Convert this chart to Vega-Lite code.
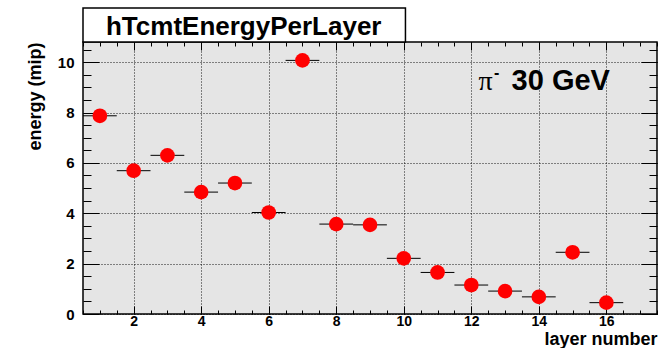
{
  "$schema": "https://vega.github.io/schema/vega-lite/v6.json",
  "width": 574,
  "height": 272,
  "autosize": {"type": "none"},
  "padding": {"left": 83, "top": 42, "right": 15, "bottom": 34},
  "background": "white",
  "config": {
    "view": {"fill": "#e5e5e5", "stroke": "black", "strokeWidth": 1.5},
    "font": "Liberation Sans"
  },
  "data": {
    "values": [
      {"layer": 1, "lo": 0.5, "hi": 1.5, "energy": 7.87},
      {"layer": 2, "lo": 1.5, "hi": 2.5, "energy": 5.69},
      {"layer": 3, "lo": 2.5, "hi": 3.5, "energy": 6.30},
      {"layer": 4, "lo": 3.5, "hi": 4.5, "energy": 4.84},
      {"layer": 5, "lo": 4.5, "hi": 5.5, "energy": 5.20},
      {"layer": 6, "lo": 5.5, "hi": 6.5, "energy": 4.03},
      {"layer": 7, "lo": 6.5, "hi": 7.5, "energy": 10.07},
      {"layer": 8, "lo": 7.5, "hi": 8.5, "energy": 3.57},
      {"layer": 9, "lo": 8.5, "hi": 9.5, "energy": 3.54},
      {"layer": 10, "lo": 9.5, "hi": 10.5, "energy": 2.21},
      {"layer": 11, "lo": 10.5, "hi": 11.5, "energy": 1.65},
      {"layer": 12, "lo": 11.5, "hi": 12.5, "energy": 1.15},
      {"layer": 13, "lo": 12.5, "hi": 13.5, "energy": 0.91},
      {"layer": 14, "lo": 13.5, "hi": 14.5, "energy": 0.68},
      {"layer": 15, "lo": 14.5, "hi": 15.5, "energy": 2.45},
      {"layer": 16, "lo": 15.5, "hi": 16.5, "energy": 0.45}
    ]
  },
  "layer": [
    {
      "data": {"values": [{}]},
      "mark": {"type": "rect", "fill": "white", "stroke": "black", "strokeWidth": 1.5},
      "encoding": {
        "x": {"datum": 0.5, "type": "quantitative", "scale": {"domain": [0.5, 17.5], "nice": false, "zero": false}, "axis": null},
        "x2": {"datum": 10.05},
        "y": {"datum": 10.8, "type": "quantitative", "scale": {"domain": [0, 10.8], "nice": false, "zero": false}, "axis": null},
        "y2": {"datum": 12.15}
      }
    },
    {
      "data": {"values": [{"label": "hTcmtEnergyPerLayer"}]},
      "mark": {"type": "text", "font": "Liberation Sans", "fontSize": 26, "fontWeight": "bold", "align": "center", "baseline": "alphabetic", "color": "black"},
      "encoding": {
        "text": {"field": "label"},
        "x": {"datum": 5.26, "type": "quantitative", "scale": {"domain": [0.5, 17.5], "nice": false, "zero": false}, "axis": null},
        "y": {"datum": 11.08, "type": "quantitative", "scale": {"domain": [0, 10.8], "nice": false, "zero": false}, "axis": null}
      }
    },
    {
      "mark": {"type": "rule", "color": "black", "strokeWidth": 1},
      "encoding": {
        "x": {
          "field": "lo", "type": "quantitative",
          "scale": {"domain": [0.5, 17.5], "nice": false, "zero": false},
          "axis": {
            "orient": "bottom",
            "values": [2, 4, 6, 8, 10, 12, 14, 16],
            "domain": false,
            "tickSize": -8, "tickColor": "black", "tickWidth": 1,
            "grid": true, "gridColor": "black", "gridDash": [1, 2], "gridWidth": 1, "gridOpacity": 0.9,
            "labelFont": "Liberation Sans", "labelFontSize": 14, "labelFontWeight": "bold", "labelColor": "black",
            "labelPadding": 8,
            "title": "layer number",
            "titleFont": "Liberation Sans", "titleFontSize": 18, "titleFontWeight": "bold", "titleColor": "black",
            "titleAnchor": "end", "titleY": 30, "titleBaseline": "alphabetic"
          }
        },
        "x2": {"field": "hi"},
        "y": {
          "field": "energy", "type": "quantitative",
          "scale": {"domain": [0, 10.8], "nice": false, "zero": false},
          "axis": {
            "orient": "left",
            "values": [0, 2, 4, 6, 8, 10],
            "domain": false,
            "tickSize": -16, "tickColor": "black", "tickWidth": 1,
            "grid": true, "gridColor": "black", "gridDash": [1, 2], "gridWidth": 1, "gridOpacity": 0.9,
            "labelFont": "Liberation Sans", "labelFontSize": 15, "labelFontWeight": "bold", "labelColor": "black",
            "labelPadding": 25,
            "title": "energy (mip)",
            "titleFont": "Liberation Sans", "titleFontSize": 18, "titleFontWeight": "bold", "titleColor": "black",
            "titleAnchor": "end", "titleX": -43, "titleBaseline": "alphabetic"
          }
        }
      }
    },
    {
      "mark": {"type": "point", "shape": "circle", "filled": true, "color": "#ff0000", "opacity": 1, "size": 216, "strokeWidth": 0},
      "encoding": {
        "x": {
          "field": "layer", "type": "quantitative",
          "scale": {"domain": [0.5, 17.5], "nice": false, "zero": false},
          "axis": {"orient": "top", "values": [2, 4, 6, 8, 10, 12, 14, 16], "domain": false, "grid": false, "labels": false, "title": null, "tickSize": -8, "tickColor": "black", "tickWidth": 1}
        },
        "y": {
          "field": "energy", "type": "quantitative",
          "scale": {"domain": [0, 10.8], "nice": false, "zero": false},
          "axis": {"orient": "right", "values": [0, 2, 4, 6, 8, 10], "domain": false, "grid": false, "labels": false, "title": null, "tickSize": -16, "tickColor": "black", "tickWidth": 1}
        }
      }
    },
    {
      "data": {"values": [{"label": "π"}]},
      "mark": {"type": "text", "font": "Liberation Serif", "fontSize": 28, "align": "left", "baseline": "alphabetic", "color": "black"},
      "encoding": {
        "text": {"field": "label"},
        "x": {
          "datum": 12.21, "type": "quantitative",
          "scale": {"domain": [0.5, 17.5], "nice": false, "zero": false},
          "axis": {"orient": "bottom", "values": [0.5, 1, 1.5, 2, 2.5, 3, 3.5, 4, 4.5, 5, 5.5, 6, 6.5, 7, 7.5, 8, 8.5, 9, 9.5, 10, 10.5, 11, 11.5, 12, 12.5, 13, 13.5, 14, 14.5, 15, 15.5, 16, 16.5, 17, 17.5], "domain": false, "grid": false, "labels": false, "title": null, "tickSize": -4, "tickColor": "black", "tickWidth": 1}
        },
        "y": {
          "datum": 8.89, "type": "quantitative",
          "scale": {"domain": [0, 10.8], "nice": false, "zero": false},
          "axis": {"orient": "left", "values": [0, 0.5, 1, 1.5, 2, 2.5, 3, 3.5, 4, 4.5, 5, 5.5, 6, 6.5, 7, 7.5, 8, 8.5, 9, 9.5, 10, 10.5], "domain": false, "grid": false, "labels": false, "title": null, "tickSize": -8, "tickColor": "black", "tickWidth": 1}
        }
      }
    },
    {
      "data": {"values": [{"label": "-"}]},
      "mark": {"type": "text", "font": "Liberation Sans", "fontSize": 16, "fontWeight": "bold", "align": "center", "baseline": "alphabetic", "color": "black"},
      "encoding": {
        "text": {"field": "label"},
        "x": {"datum": 12.75, "type": "quantitative", "scale": {"domain": [0.5, 17.5], "nice": false, "zero": false}, "axis": null},
        "y": {"datum": 9.39, "type": "quantitative", "scale": {"domain": [0, 10.8], "nice": false, "zero": false}, "axis": null}
      }
    },
    {
      "data": {"values": [{"label": "30 GeV"}]},
      "mark": {"type": "text", "font": "Liberation Sans", "fontSize": 29, "fontWeight": "bold", "align": "center", "baseline": "alphabetic", "color": "black"},
      "encoding": {
        "text": {"field": "label"},
        "x": {
          "datum": 14.65, "type": "quantitative",
          "scale": {"domain": [0.5, 17.5], "nice": false, "zero": false},
          "axis": {"orient": "top", "values": [0.5, 1, 1.5, 2, 2.5, 3, 3.5, 4, 4.5, 5, 5.5, 6, 6.5, 7, 7.5, 8, 8.5, 9, 9.5, 10, 10.5, 11, 11.5, 12, 12.5, 13, 13.5, 14, 14.5, 15, 15.5, 16, 16.5, 17, 17.5], "domain": false, "grid": false, "labels": false, "title": null, "tickSize": -4, "tickColor": "black", "tickWidth": 1}
        },
        "y": {
          "datum": 8.89, "type": "quantitative",
          "scale": {"domain": [0, 10.8], "nice": false, "zero": false},
          "axis": {"orient": "right", "values": [0, 0.5, 1, 1.5, 2, 2.5, 3, 3.5, 4, 4.5, 5, 5.5, 6, 6.5, 7, 7.5, 8, 8.5, 9, 9.5, 10, 10.5], "domain": false, "grid": false, "labels": false, "title": null, "tickSize": -8, "tickColor": "black", "tickWidth": 1}
        }
      }
    }
  ],
  "resolve": {"axis": {"x": "independent", "y": "independent"}}
}
